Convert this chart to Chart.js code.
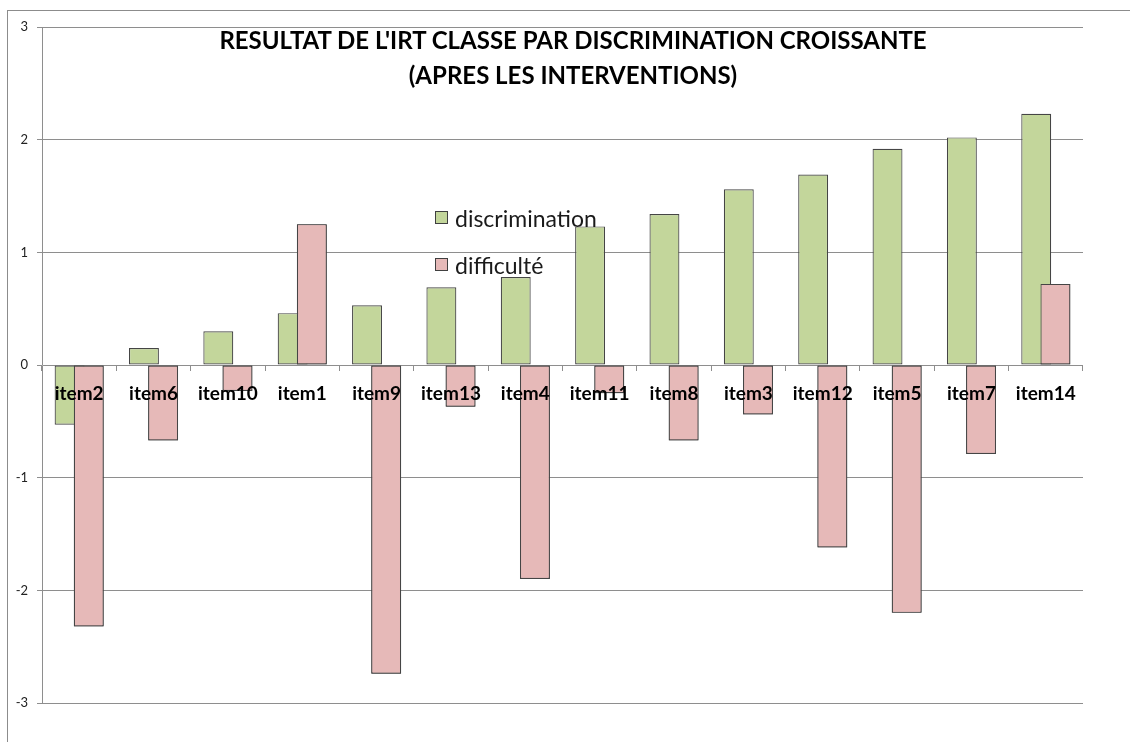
<!DOCTYPE html>
<html>
<head>
<meta charset="utf-8">
<script src="https://cdn.jsdelivr.net/npm/chart.js@4.4.1/dist/chart.umd.min.js"></script>
<style>
    html, body { margin: 0; padding: 0; background: #fff; overflow: hidden; }
    #wrap { position: relative; width: 1130px; height: 742px; overflow: hidden; }
    #frame { position: absolute; left: 7px; top: 10px; width: 1200px; height: 800px; border: 1px solid #8c8c8c; }
    #chart { position: absolute; left: 0; top: 0; }
    #title { position: absolute; left: 0; width: 1146px; top: 22px; text-align: center;
             font: bold 24px Lato, sans-serif; line-height: 35px; color: #000; }
    #legend { position: absolute; left: 435px; top: 194px; font: 23px Lato, sans-serif; color: #1a1a1a; }
    .legend-item { display: flex; align-items: center; height: 47px; }
    .legend-box { width: 11px; height: 11px; border: 1px solid #404040; margin-right: 7px; }
</style>
</head>
<body>
<div id="wrap">
    <div id="frame"></div>
    <canvas id="chart" width="1130" height="742"></canvas>
    <div id="title">RESULTAT DE L'IRT CLASSE PAR DISCRIMINATION CROISSANTE<br>(APRES LES INTERVENTIONS)</div>
    <div id="legend"></div>
</div>
<script>
// données
const categories = ['item2', 'item6', 'item10', 'item1', 'item9', 'item13', 'item4',
                    'item11', 'item8', 'item3', 'item12', 'item5', 'item7', 'item14'];
const discrimination = [-0.53, 0.15, 0.30, 0.46, 0.53, 0.69, 0.78, 1.23, 1.34, 1.56, 1.69, 1.92, 2.02, 2.23];
const difficulte = [-2.32, -0.67, -0.23, 1.25, -2.74, -0.37, -1.90, -0.25, -0.67, -0.44, -1.62, -2.20, -0.79, 0.72];
const yTicks = [-3, -2, -1, 0, 1, 2, 3];

const green = '#C3D69B';
const pink = '#E6B9B8';
const barBorder = '#454545';
const gridColor = '#8e8e8e';

const datasets = [
    { label: 'discrimination', data: discrimination, backgroundColor: green },
    { label: 'difficulté', data: difficulte, backgroundColor: pink }
].map(d => Object.assign(d, {
    borderColor: barBorder,
    borderWidth: 1.2,
    borderSkipped: false,
    categoryPercentage: 0.516,
    barPercentage: 1.56
}));

// la série "difficulté" passe au-dessus de "discrimination" (comme Excel)
const pinkOnTop = {
    id: 'pinkOnTop',
    afterDatasetsDraw(chart) {
        const ctx = chart.ctx;
        const a = chart.chartArea;
        ctx.save();
        ctx.beginPath();
        ctx.rect(a.left, a.top, a.right - a.left, a.bottom - a.top);
        ctx.clip();
        chart.getDatasetMeta(1).controller.draw();
        ctx.restore();
        ctx.beginPath();
    }
};

const chart = new Chart(document.getElementById('chart'), {
    type: 'bar',
    data: { labels: categories, datasets: datasets },
    options: {
        responsive: false,
        animation: false,
        layout: { padding: { top: 27, right: 47, bottom: 39, left: 0 } },
        plugins: {
            legend: { display: false },
            title: { display: false },
            tooltip: { enabled: false }
        },
        scales: {
            x: {
                position: { y: 0 },
                grid: { drawOnChartArea: false, drawTicks: true, tickLength: 6, color: gridColor, offset: true },
                border: { display: false },
                ticks: {
                    z: 1,
                    padding: 11,
                    color: '#000',
                    font: { family: 'Lato', weight: 'bold', size: 19 },
                    maxRotation: 0,
                    autoSkip: false
                }
            },
            y: {
                min: -3,
                max: 3,
                afterBuildTicks: s => { s.ticks = yTicks.map(v => ({ value: v })); },
                afterFit: s => { s.width = 42; },
                grid: { color: gridColor, tickLength: 5 },
                border: { display: true, color: gridColor, width: 1 },
                ticks: {
                    padding: 9,
                    color: '#222',
                    font: { family: 'Lato', size: 13 }
                }
            }
        }
    },
    plugins: [pinkOnTop]
});

// légende dans la zone du graphique
const legend = document.getElementById('legend');
chart.data.datasets.forEach(ds => {
    const row = document.createElement('div');
    row.className = 'legend-item';
    const box = document.createElement('span');
    box.className = 'legend-box';
    box.style.background = ds.backgroundColor;
    const txt = document.createElement('span');
    txt.textContent = ds.label;
    row.appendChild(box);
    row.appendChild(txt);
    legend.appendChild(row);
});
</script>
</body>
</html>
